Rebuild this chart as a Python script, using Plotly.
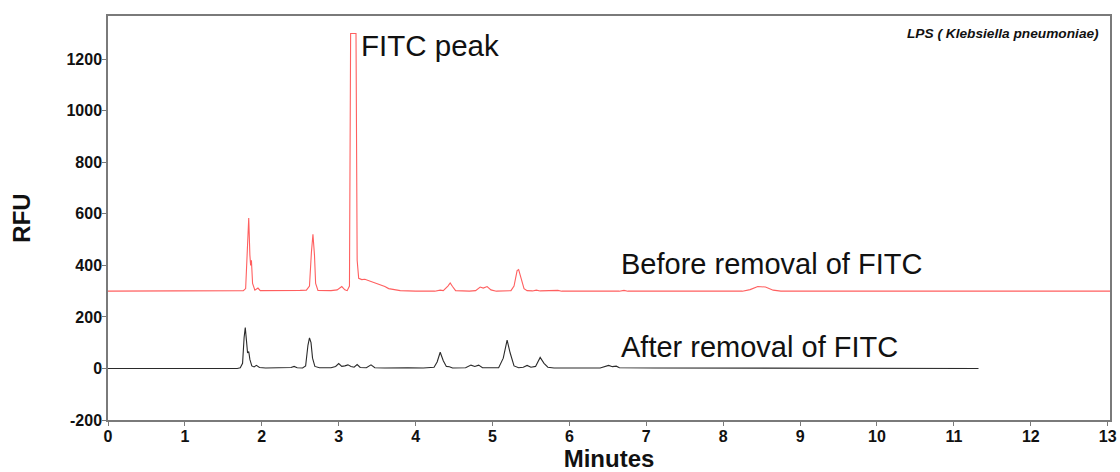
import plotly.graph_objects as go

# Before removal of FITC (red trace), minutes vs RFU
before_t = [0, 1.70, 1.76, 1.79, 1.81, 1.83, 1.845, 1.855, 1.865, 1.88, 1.91, 1.95, 1.98,
            2.3, 2.5, 2.58, 2.62, 2.645, 2.665, 2.685, 2.70, 2.73, 2.9, 2.98, 3.04, 3.08,
            3.11, 3.14, 3.155, 3.225, 3.24, 3.26, 3.30, 3.34, 3.38, 3.42, 3.46, 3.50, 3.55,
            3.60, 3.65, 3.72, 3.80, 4.0, 4.25, 4.32, 4.36, 4.42, 4.45, 4.48, 4.52, 4.7,
            4.78, 4.84, 4.88, 4.93, 4.98, 5.05, 5.24, 5.28, 5.32, 5.34, 5.37, 5.41, 5.45,
            5.52, 5.57, 5.62, 5.85, 5.9, 6.65, 6.71, 6.76, 8.25, 8.35, 8.45, 8.55, 8.65,
            8.75, 13.1]
before_rfu = [300, 300, 302, 310, 480, 584, 440, 400, 420, 330, 304, 312, 302,
              301, 303, 304, 320, 450, 521, 440, 330, 303, 302, 305, 318, 305,
              302, 320, 1300, 1300, 420, 350, 345, 346, 342, 338, 332, 330, 325,
              318, 310, 305, 302, 300, 300, 304, 302, 320, 332, 318, 302, 300,
              302, 316, 312, 318, 305, 300, 302, 320, 380, 384, 350, 310, 302,
              301, 304, 301, 303, 300, 300, 303, 300, 300, 306, 318, 316, 304,
              300, 300]

# After removal of FITC (black trace)
after_t = [0, 1.68, 1.72, 1.75, 1.77, 1.785, 1.80, 1.815, 1.83, 1.845, 1.87, 1.90, 1.93,
           1.97, 2.05, 2.3, 2.38, 2.42, 2.46, 2.53, 2.57, 2.60, 2.62, 2.64, 2.66, 2.69,
           2.75, 2.90, 2.96, 3.00, 3.04, 3.08, 3.12, 3.16, 3.20, 3.24, 3.28, 3.36, 3.42,
           3.47, 3.6, 3.9, 4.1, 4.24, 4.28, 4.32, 4.36, 4.40, 4.44, 4.48, 4.65, 4.72,
           4.77, 4.82, 4.87, 5.08, 5.14, 5.19, 5.23, 5.28, 5.34, 5.40, 5.45, 5.50, 5.56,
           5.62, 5.67, 5.72, 5.8, 6.4, 6.46, 6.51, 6.56, 6.61, 6.65, 6.9, 7.02, 7.06,
           7.10, 11.32]
after_rfu = [0, 0, 3, 20, 120, 159, 110, 60, 66, 35, 10, 6, 12,
             4, 2, 2, 4, 8, 3, 2, 10, 90, 119, 100, 40, 8,
             3, 3, 8, 19, 8, 10, 14, 8, 5, 15, 4, 3, 14,
             3, 2, 3, 2, 5, 25, 63, 30, 8, 7, 2, 3, 13,
             8, 13, 3, 3, 40, 110, 60, 10, 3, 5, 12, 5, 8,
             43, 20, 5, 2, 2, 8, 12, 7, 9, 3, 2, 3, 4,
             2, 0]

x_ticks = list(range(0, 14))
y_ticks = list(range(-200, 1201, 200))

FONT = "Liberation Sans"

fig = go.Figure()
fig.add_trace(go.Scatter(x=before_t, y=before_rfu, mode="lines",
                         line=dict(color="rgb(255,95,95)", width=1.1),
                         name="Before removal of FITC", showlegend=False))
fig.add_trace(go.Scatter(x=after_t, y=after_rfu, mode="lines",
                         line=dict(color="#2a2a2a", width=1.1),
                         name="After removal of FITC", showlegend=False))

fig.update_layout(
    width=1120, height=472,
    margin=dict(l=108, r=10, t=16, b=52),
    plot_bgcolor="white", paper_bgcolor="white",
    font=dict(family=FONT, color="#111"),
    xaxis=dict(range=[0, 13.03], tickvals=x_ticks, ticktext=[str(v) for v in x_ticks],
               automargin=False, ticklabelstandoff=-3,
               showgrid=False, zeroline=False, showline=True, mirror=True,
               linecolor="#7a7a7a", linewidth=1.5, ticks="outside", ticklen=4,
               tickcolor="#7a7a7a",
               tickfont=dict(family=FONT, size=16, color="#111", weight="bold"),
               title=dict(text="Minutes", standoff=9,
                          font=dict(family=FONT, size=24, color="#111", weight="bold"))),
    yaxis=dict(range=[-200, 1368], tickvals=y_ticks, ticktext=[str(v) for v in y_ticks],
               automargin=False, ticklabelstandoff=-3,
               showgrid=False, zeroline=False, showline=True, mirror=True,
               linecolor="#7a7a7a", linewidth=1.5, ticks="outside", ticklen=4,
               tickcolor="#7a7a7a",
               tickfont=dict(family=FONT, size=16, color="#111", weight="bold"),
               title=dict(text="RFU", standoff=29,
                          font=dict(family=FONT, size=24, color="#111", weight="bold"))),
)

fig.add_annotation(x=3.27, y=1255, xref="x", yref="y", text="FITC peak", showarrow=False,
                   xanchor="left", yanchor="middle",
                   font=dict(family=FONT, size=29.5, color="#111"))
fig.add_annotation(x=6.64, y=405, xref="x", yref="y", text="Before removal of FITC",
                   showarrow=False, xanchor="left", yanchor="middle",
                   font=dict(family=FONT, size=29, color="#111"))
fig.add_annotation(x=6.64, y=82, xref="x", yref="y", text="After removal of FITC",
                   showarrow=False, xanchor="left", yanchor="middle",
                   font=dict(family=FONT, size=29, color="#111"))
fig.add_annotation(x=12.91, y=1302, xref="x", yref="y",
                   text="LPS ( Klebsiella pneumoniae)", showarrow=False,
                   xanchor="right", yanchor="middle",
                   font=dict(family=FONT, size=13.7, color="#111", weight="bold",
                             style="italic"))

fig.write_html("out.html")
